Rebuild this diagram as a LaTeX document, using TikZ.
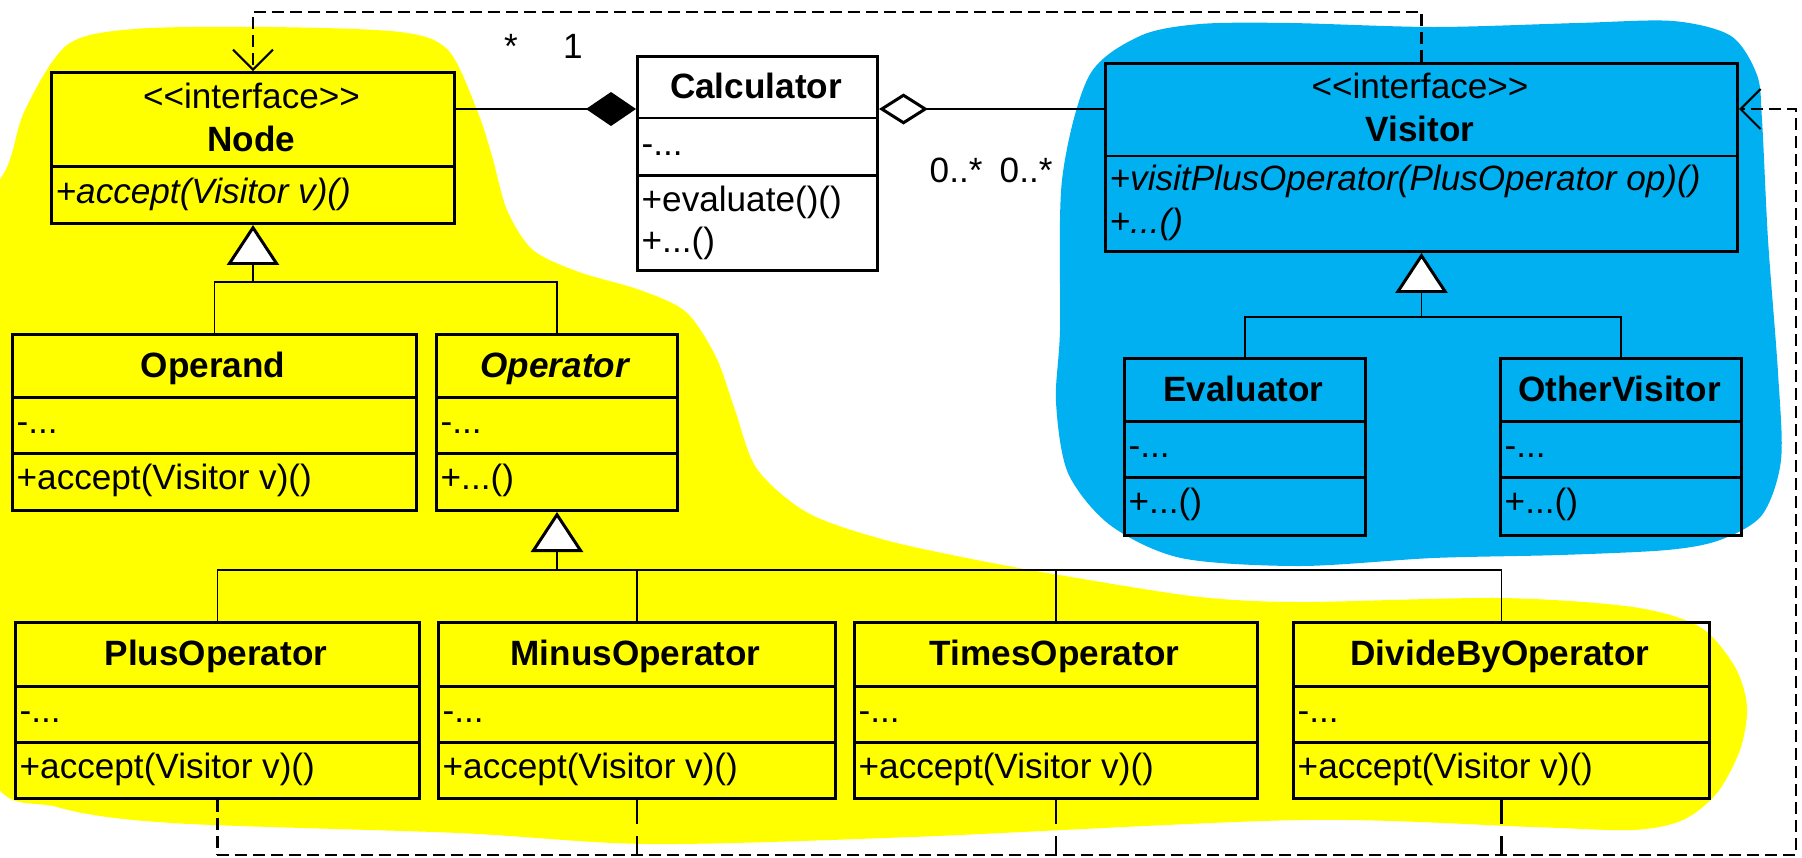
\documentclass[tikz,border=0pt]{standalone}
\usepackage{fontspec}
\setmainfont{Liberation Sans}
\usepackage{tikz}
\usetikzlibrary{arrows.meta,positioning}
\definecolor{blobyellow}{RGB}{255,255,0}
\definecolor{blobblue}{RGB}{0,176,240}

\begin{document}
\begin{tikzpicture}[inner sep=0pt,
    classbox/.style={draw, line width=0.85pt, anchor=north west},
    divider/.style={line width=0.85pt},
    link/.style={line width=0.5pt},
    dep/.style={line width=0.6pt, dash pattern=on 0.12cm off 0.06cm},
    deplong/.style={line width=0.6pt, dash pattern=on 0.24cm off 0.12cm},
    depend/.style={-{Straight Barb[length=0.2cm, width=0.4cm, line width=0.6pt]}},
    inherit/.style={link, -{Triangle[open, fill=white, length=0.4cm, width=0.52cm, line width=0.85pt]}},
    compose/.style={link, -{Diamond[length=0.5cm, width=0.34cm]}},
    aggregate/.style={link, {Diamond[open, fill=white, length=0.49cm, width=0.31cm, line width=0.85pt]}-}]
  \useasboundingbox (0,0) rectangle (18.02,-8.57);
  \begin{scope}
    \clip (0,0) rectangle (18.02,-8.57);
    \fill[blobyellow] plot[smooth cycle] coordinates {
      (-0.30,-2.50) (0.08,-1.65) (0.25,-1.10) (0.67,-0.45) (1.34,-0.29) (2.68,-0.27)
      (4.00,-0.32) (4.48,-0.50) (4.77,-1.10) (4.92,-1.56) (5.07,-2.10) (5.33,-2.50)
      (5.79,-2.72) (6.40,-2.90) (6.86,-3.12) (7.16,-3.57) (7.35,-4.10) (7.57,-4.69)
      (8.08,-5.13) (8.85,-5.40) (9.87,-5.62) (10.89,-5.80) (12.00,-5.97) (13.00,-6.02)
      (15.00,-5.98) (16.33,-6.07) (17.00,-6.27) (17.35,-6.67) (17.47,-7.07) (17.40,-7.50)
      (17.17,-7.93) (16.83,-8.20) (16.33,-8.30) (15.33,-8.27) (13.00,-8.20) (9.12,-8.37)
      (6.50,-8.44) (4.59,-8.33) (1.72,-8.23) (0.57,-8.07) (-0.10,-7.70) (-0.30,-5.00)};
    \fill[blobblue] plot[smooth cycle] coordinates {
      (10.89,-0.76) (11.40,-0.36) (12.00,-0.24) (12.90,-0.23) (14.34,-0.27) (15.78,-0.23)
      (16.73,-0.21) (17.31,-0.36) (17.57,-0.75) (17.62,-1.20) (17.68,-2.40) (17.78,-3.73)
      (17.81,-4.60) (17.62,-5.15) (17.20,-5.40) (16.67,-5.50) (15.60,-5.55) (14.33,-5.58)
      (13.00,-5.66) (11.81,-5.58) (11.10,-5.25) (10.68,-4.73) (10.56,-4.02) (10.60,-3.30)
      (10.62,-1.80)};
  \end{scope}

  \foreach \id/\xa/\xb/\ya/\yb/\yc/\yd/\cname/\cmeth in {
      operand/0.11/4.15/3.33/3.97/4.53/5.09/{Operand}/{+accept(Visitor v)()},
      operator/4.35/6.76/3.33/3.97/4.53/5.09/{\textit{Operator}}/{+...()},
      plus/0.14/4.18/6.21/6.86/7.42/7.97/{PlusOperator}/{+accept(Visitor v)()},
      minus/4.37/8.34/6.21/6.86/7.42/7.97/{MinusOperator}/{+accept(Visitor v)()},
      times/8.53/12.56/6.21/6.86/7.42/7.97/{TimesOperator}/{+accept(Visitor v)()},
      divide/12.92/17.08/6.21/6.86/7.42/7.97/{DivideByOperator}/{+accept(Visitor v)()},
      evaluator/11.23/13.64/3.57/4.21/4.77/5.34/{Evaluator}/{+...()},
      other/14.99/17.40/3.57/4.21/4.77/5.34/{OtherVisitor}/{+...()}} {
    \node[classbox, minimum width={(\xb-\xa)*1cm}, minimum height={(\yd-\ya)*1cm}] (\id) at (\xa,-\ya) {};
    \draw[divider] (\xa,-\yb) -- (\xb,-\yb) (\xa,-\yc) -- (\xb,-\yc);
    \node[anchor=base, font=\bfseries] (\id-name) at ({(\xa+\xb)/2},-\ya-0.44) {\cname};
    \node[anchor=base west] (\id-attr) at (\xa+0.05,-\yb-0.36) {-...};
    \node[anchor=base west] (\id-meth) at (\xa+0.05,-\yc-0.36) {\cmeth};
  }

  \node[classbox, fill=white, minimum width=2.40cm, minimum height=2.14cm] (calc) at (6.36,-0.55) {};
  \draw[divider] (6.36,-1.18) -- (8.76,-1.18) (6.36,-1.75) -- (8.76,-1.75);
  \node[anchor=base, font=\bfseries] (calc-name) at (7.56,-0.98) {Calculator};
  \node[anchor=base west] (calc-attr) at (6.41,-1.55) {-...};
  \node[anchor=base west] (calc-eval) at (6.41,-2.11) {+evaluate()()};
  \node[anchor=base west] (calc-more) at (6.41,-2.52) {+...()};

  \node[classbox, minimum width=4.03cm, minimum height=1.51cm] (nodeif) at (0.50,-0.71) {};
  \draw[divider] (0.50,-1.66) -- (4.53,-1.66);
  \node[anchor=base] (nodeif-stereo) at (2.515,-1.08) {<{}<interface>{}>};
  \node[anchor=base, font=\bfseries] (nodeif-name) at (2.515,-1.51) {Node};
  \node[anchor=base west, font=\itshape] (nodeif-meth) at (0.55,-2.03) {+accept(Visitor v)()};

  \node[classbox, minimum width=6.32cm, minimum height=1.88cm] (visitor) at (11.04,-0.62) {};
  \draw[divider] (11.04,-1.56) -- (17.36,-1.56);
  \node[anchor=base] (visitor-stereo) at (14.20,-0.98) {<{}<interface>{}>};
  \node[anchor=base, font=\bfseries] (visitor-name) at (14.20,-1.41) {Visitor};
  \node[anchor=base west, font=\itshape] (visitor-visit) at (11.09,-1.90) {+visitPlusOperator(PlusOperator op)()};
  \node[anchor=base west, font=\itshape] (visitor-more) at (11.09,-2.33) {+...()};

  \draw[link] (operand.north) -- (operand.north |- 0,-2.82) -| (operator.north);
  \draw[inherit] (nodeif.south |- 0,-2.82) -- (nodeif.south);
  \draw[link] (plus.north) -- (plus.north |- 0,-5.70) -| (divide.north);
  \foreach \c in {minus,times}
    \draw[link] (\c.north) -- (\c.north |- 0,-5.70);
  \draw[inherit] (operator.south |- 0,-5.70) -- (operator.south);
  \draw[link] (evaluator.north) -- (evaluator.north |- 0,-3.17) -| (other.north);
  \draw[inherit] (visitor.south |- 0,-3.17) -- (visitor.south);

  \draw[compose] ([yshift=-0.38cm]nodeif.north east) -- ([yshift=-0.54cm]calc.north west);
  \draw[aggregate] ([yshift=-0.54cm]calc.north east) -- ([yshift=-0.47cm]visitor.north west);
  \node[anchor=base] (mul-node) at (5.11,-0.58) {*};
  \node[anchor=base] (mul-calc) at (5.73,-0.58) {1};
  \node[anchor=base west] (mul-agg) at (9.29,-1.82) {0..*};
  \node[anchor=base west] (mul-visitor) at (9.99,-1.82) {0..*};

  \draw[dep, depend] (visitor.north) -- ++(0,0.50) -| (nodeif.north);
  \coordinate (depcorner) at (17.96,-8.55);
  \draw[dep] (plus.south) -- (plus.south |- depcorner);
  \foreach \c in {minus,times,divide}
    \draw[deplong] (\c.south) -- (\c.south |- depcorner);
  \draw[dep, depend] (plus.south |- depcorner) -- (depcorner) |- ([yshift=-0.47cm]visitor.north east);
\end{tikzpicture}
\end{document}
